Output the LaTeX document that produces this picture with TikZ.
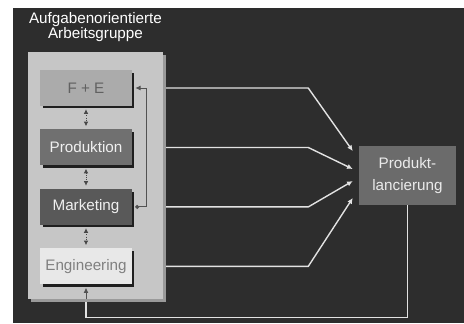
\documentclass[tikz,border=0pt]{standalone}
\usepackage{fontspec}
\setmainfont{Liberation Sans}
\usetikzlibrary{arrows.meta, positioning, calc}
\definecolor{bgdark}{HTML}{2D2D2D}
\definecolor{panelgray}{HTML}{C6C6C6}
\definecolor{panelshd}{HTML}{9A9A9A}
\definecolor{linegray}{HTML}{E2E2E2}
\tikzset{
  grp/.style ={rectangle, fill=panelgray, minimum width=4.05cm, minimum height=7.41cm, inner sep=0pt},
  blk/.style ={rectangle, minimum width=2.76cm, minimum height=1.08cm, inner sep=0pt, font=\fontsize{13}{13}\selectfont},
  ttl/.style ={align=center, text=white, inner sep=0pt, font=\fontsize{13}{12.5}\selectfont},
  shd/.style ={draw=black!88, line width=2.1pt},
  dbl/.style ={{Latex[length=1.4mm,width=1.4mm]}-{Latex[length=1.4mm,width=1.4mm]}, densely dotted, draw=black!72, line width=0.8pt, shorten <=2.5pt, shorten >=2.5pt},
  fb/.style  ={-{Latex[length=1.6mm,width=1.5mm]}, draw=black!68, line width=0.8pt},
  fl/.style  ={-{Latex[length=1.7mm,width=1.6mm]}, draw=linegray, line width=1.2pt},
}

\begin{document}
\begin{tikzpicture}[x=0.03cm, y=-0.03cm, node distance=0.69cm, >=Latex]
  \useasboundingbox (0,0) rectangle (464,323);
  \fill[white] (0,0) rectangle (464,323);
  \fill[bgdark] (13,8) rectangle (464,323);
  % arbeitsgruppe
  \fill[panelshd] (31,55) rectangle (166,302);
  \node[grp] (grp) at (95.5,175.5) {};
  \node[ttl] (titel) at (95.5,27) {Aufgabenorientierte\\Arbeitsgruppe};
  \node[blk, fill=black!33, text=black!62] (fe) at (86,88) {F + E};
  \node[blk, fill=black!56, text=black!6, below=of fe] (prod) {Produktion};
  \node[blk, fill=black!65, text=black!6, below=of prod] (mkt) {Marketing};
  \node[blk, fill=black!9, text=black!50, below=of mkt] (eng) {Engineering};
  \foreach \n in {fe,prod,mkt,eng}
    \draw[shd] ($(\n.south west)+(3,1)$) -| ($(\n.north east)+(1,3)$);
  \draw[dbl] (fe) -- (prod);
  \draw[dbl] (prod) -- (mkt);
  \draw[dbl] (mkt) -- (eng);
  \draw[fb, {Circle[length=1.2mm]}-{Latex[length=1.6mm,width=1.5mm]}] ($(mkt.east)+(3,0)$) -- ++(11,0) |- ($(fe.east)+(3,0)$);
  % produktlancierung
  \node[blk, fill=black!58, text=black!8, minimum width=2.91cm, minimum height=1.77cm, align=center,
        font=\fontsize{13}{19.5}\selectfont] (pl) at (407.5,175.5) {Produkt-\\lancierung};
  \foreach \n/\dy in {fe/-24.5, prod/-6.5, mkt/5.5, eng/22.5}{
    \coordinate (in-\n) at ($(pl.west)+(-6,\dy)$);
    \draw[fl] ($(grp.east |- \n)+(3,0)$) -- ++(142,0) -- (in-\n);
  }
  \draw[draw=linegray, line width=1.2pt] (pl.south) -- ++(0,112) -| ($(grp.south -| eng)+(0,3)$);
  \draw[fb] (grp.south -| eng) -- ($(eng.south)+(0,3)$);
\end{tikzpicture}
\end{document}
